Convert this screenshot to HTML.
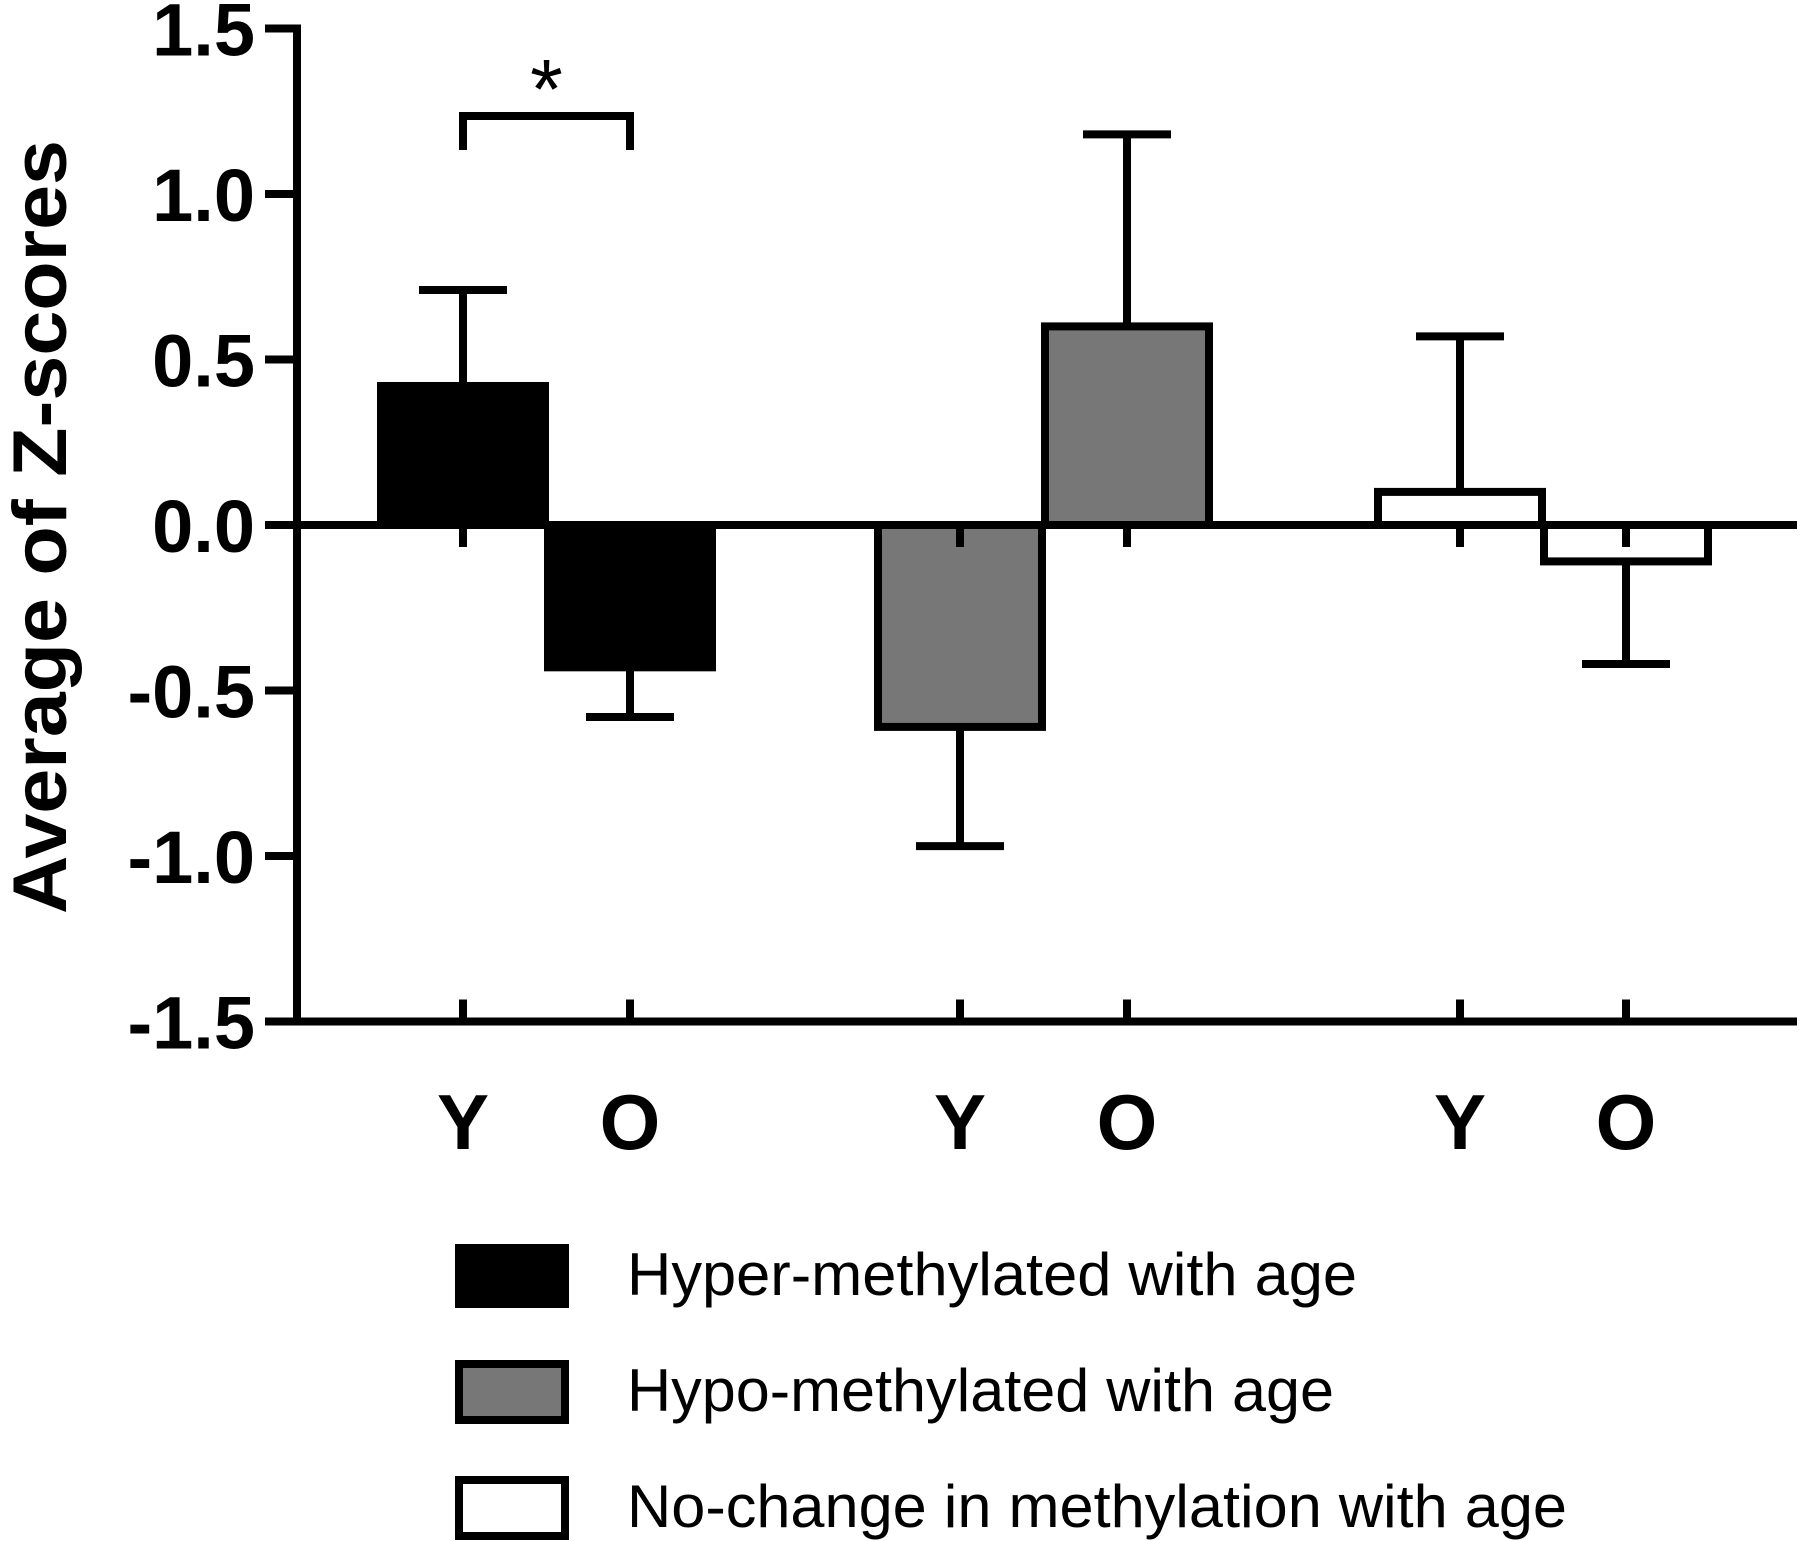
<!DOCTYPE html>
<html><head><meta charset="utf-8"><style>
html,body{margin:0;padding:0;background:#fff;}
svg{display:block;font-family:"Liberation Sans",Arial,sans-serif;}
</style></head><body>
<svg id="chart" width="1800" height="1541" viewBox="0 0 1800 1541" xmlns="http://www.w3.org/2000/svg">
<text x="0" y="0" transform="translate(66,527) rotate(-90)" text-anchor="middle" font-size="76" font-weight="bold" textLength="774" lengthAdjust="spacingAndGlyphs">Average of Z-scores</text>
<g id="marks"></g>
</svg>
<script>
const categories = ['Y','O','Y','O','Y','O'];
const groups = ['hyper','hyper','hypo','hypo','nochange','nochange'];
const means = [0.42, -0.43, -0.61, 0.60, 0.10, -0.11];
const errs = [0.29, 0.15, 0.36, 0.58, 0.47, 0.31];
const yTicks = [1.5, 1.0, 0.5, 0.0, -0.5, -1.0, -1.5];
const yTickLabels = ['1.5','1.0','0.5','0.0','-0.5','-1.0','-1.5'];
const legendLabels = ['Hyper-methylated with age','Hypo-methylated with age','No-change in methylation with age'];

const NS='http://www.w3.org/2000/svg';
const g=document.getElementById('marks');
const fills={hyper:'#000',hypo:'#777',nochange:'#fff'};
const y0=525, unit=331;
function yS(v){return y0 - v*unit;}
const xCenters=[463,630,960,1127,1460,1626];
function xS(i){return xCenters[i];}
const BW=172, LW=8, CAP=88;
function mk(tag,attrs){const e=document.createElementNS(NS,tag);for(const k in attrs)e.setAttribute(k,attrs[k]);g.appendChild(e);return e;}

means.forEach((m,i)=>{
  const cx=xS(i);
  const top=Math.min(yS(m),y0), h=Math.abs(yS(m)-y0);
  const r=mk('rect',{x:cx-BW/2+LW/2,y:top,width:BW-LW,height:h,fill:fills[groups[i]],stroke:'#000','stroke-width':LW});
  
  
  const sgn=m>=0?1:-1;
  const ye=yS(m+sgn*errs[i]);
  const l=mk('line',{x1:cx,x2:cx,y1:yS(m),y2:ye,stroke:'#000','stroke-width':LW});
  
  
  const c=mk('line',{x1:cx-CAP/2,x2:cx+CAP/2,y1:ye,y2:ye,stroke:'#000','stroke-width':LW});
  
  
  const t=mk('line',{x1:cx,x2:cx,y1:y0,y2:y0+22,stroke:'#000','stroke-width':LW});
  
  
  const b=mk('line',{x1:cx,x2:cx,y1:yS(-1.5),y2:yS(-1.5)-22,stroke:'#000','stroke-width':LW});
  
  
  const tx=mk('text',{x:cx,y:1149,'text-anchor':'middle','font-size':78,'font-weight':'bold'});
  tx.textContent=categories[i];
  
  
});
const zl=mk('line',{x1:297,x2:1797,y1:y0,y2:y0,stroke:'#000','stroke-width':LW});


const ya=mk('line',{x1:297,x2:297,y1:yS(1.5)-4,y2:yS(-1.5)+4,stroke:'#000','stroke-width':LW});


const xa=mk('line',{x1:265,x2:1797,y1:yS(-1.5),y2:yS(-1.5),stroke:'#000','stroke-width':LW});


yTicks.forEach((v,i)=>{
  const t=mk('line',{x1:265,x2:297,y1:yS(v),y2:yS(v),stroke:'#000','stroke-width':LW});
  
  
  const tx=mk('text',{x:255,y:yS(v)+27,'text-anchor':'end','font-size':74,'font-weight':'bold'});
  tx.textContent=yTickLabels[i];
  
  
});
const br=mk('path',{d:`M${xS(0)},150 V116 H${xS(1)} V150`,fill:'none',stroke:'#000','stroke-width':LW});


const st=mk('text',{x:(xS(0)+xS(1))/2,y:118,'text-anchor':'middle','font-size':84});
st.textContent='*';


const lf=['hyper','hypo','nochange'];
const lTops=[1244,1360,1476];
const lLens=[730,707,940];
legendLabels.forEach((lab,i)=>{
  const r=mk('rect',{x:459,y:lTops[i]+4,width:106,height:56,fill:fills[lf[i]],stroke:'#000','stroke-width':LW});
  
  
  const tx=mk('text',{x:627,y:lTops[i]+51,'font-size':60,textLength:lLens[i],lengthAdjust:'spacingAndGlyphs'});
  tx.textContent=lab;
  
  
});
</script>
</body></html>
